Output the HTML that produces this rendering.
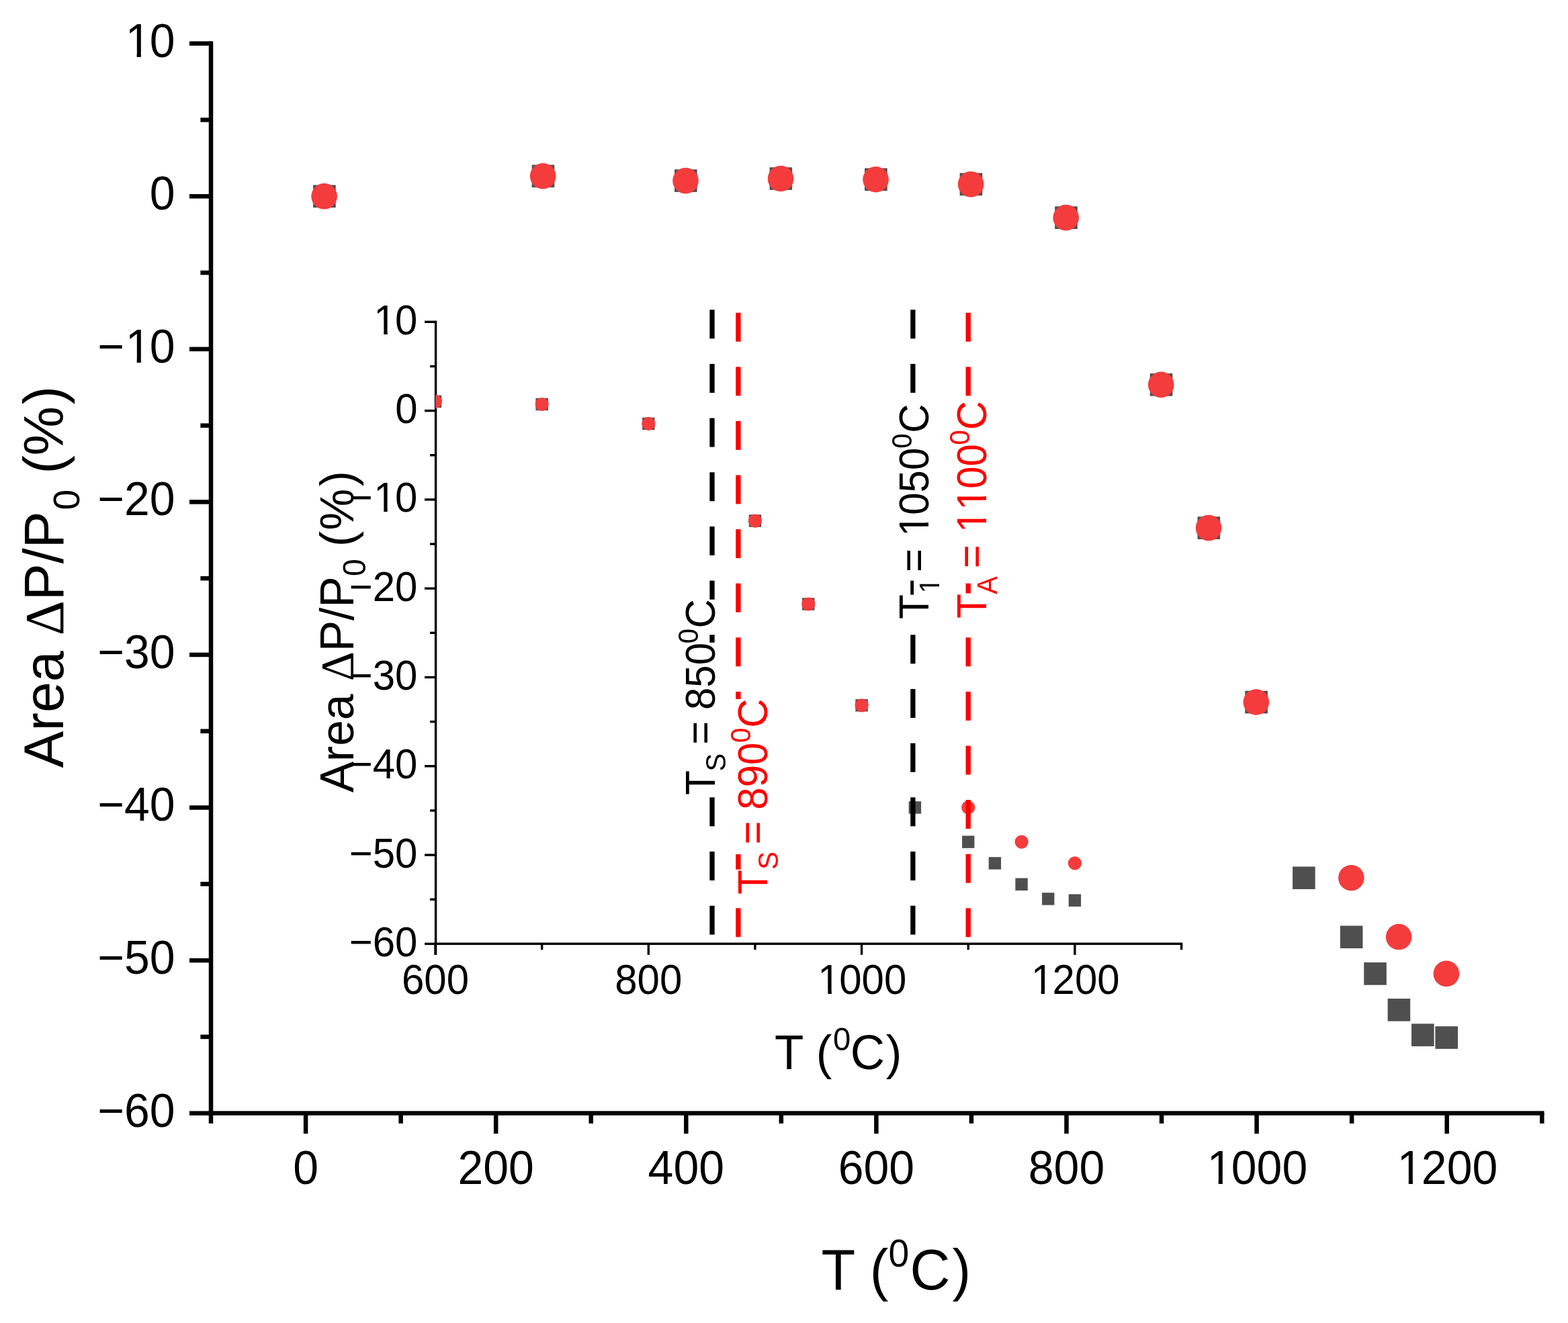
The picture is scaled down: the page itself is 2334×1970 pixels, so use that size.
<!DOCTYPE html>
<html lang="en">
<head>
<meta charset="utf-8">
<title>Area ΔP/P0 (%) vs T (0C)</title>
<style>
html,body{margin:0;padding:0;background:#fff;}
body{width:2334px;height:1970px;overflow:hidden;}
svg{display:block;}
text{font-family:"Liberation Sans", Arial, Helvetica, sans-serif;white-space:pre;}
</style>
</head>
<body>
<svg width="2334" height="1970" viewBox="0 0 2334 1970">
<rect x="0" y="0" width="2334" height="1970" fill="#fff"/>
<g id="figure">

<g id="main-axes">
<rect x="310.75" y="61.49" width="6.50" height="1611.41" fill="#000"/>
<rect x="310.75" y="1654.35" width="1987.75" height="6.50" fill="#000"/>
<rect x="282.00" y="61.49" width="32.00" height="6.50" fill="#000"/>
<rect x="282.00" y="289.05" width="32.00" height="6.50" fill="#000"/>
<rect x="282.00" y="516.61" width="32.00" height="6.50" fill="#000"/>
<rect x="282.00" y="744.17" width="32.00" height="6.50" fill="#000"/>
<rect x="282.00" y="971.73" width="32.00" height="6.50" fill="#000"/>
<rect x="282.00" y="1199.29" width="32.00" height="6.50" fill="#000"/>
<rect x="282.00" y="1426.85" width="32.00" height="6.50" fill="#000"/>
<rect x="282.00" y="1654.41" width="32.00" height="6.50" fill="#000"/>
<rect x="298.40" y="175.27" width="15.60" height="6.50" fill="#000"/>
<rect x="298.40" y="402.83" width="15.60" height="6.50" fill="#000"/>
<rect x="298.40" y="630.39" width="15.60" height="6.50" fill="#000"/>
<rect x="298.40" y="857.95" width="15.60" height="6.50" fill="#000"/>
<rect x="298.40" y="1085.51" width="15.60" height="6.50" fill="#000"/>
<rect x="298.40" y="1313.07" width="15.60" height="6.50" fill="#000"/>
<rect x="298.40" y="1540.63" width="15.60" height="6.50" fill="#000"/>
<rect x="451.85" y="1657.60" width="6.50" height="30.50" fill="#000"/>
<rect x="734.95" y="1657.60" width="6.50" height="30.50" fill="#000"/>
<rect x="1018.05" y="1657.60" width="6.50" height="30.50" fill="#000"/>
<rect x="1301.15" y="1657.60" width="6.50" height="30.50" fill="#000"/>
<rect x="1584.25" y="1657.60" width="6.50" height="30.50" fill="#000"/>
<rect x="1867.35" y="1657.60" width="6.50" height="30.50" fill="#000"/>
<rect x="2150.45" y="1657.60" width="6.50" height="30.50" fill="#000"/>
<rect x="593.40" y="1657.60" width="6.50" height="15.30" fill="#000"/>
<rect x="876.50" y="1657.60" width="6.50" height="15.30" fill="#000"/>
<rect x="1159.60" y="1657.60" width="6.50" height="15.30" fill="#000"/>
<rect x="1442.70" y="1657.60" width="6.50" height="15.30" fill="#000"/>
<rect x="1725.80" y="1657.60" width="6.50" height="15.30" fill="#000"/>
<rect x="2008.90" y="1657.60" width="6.50" height="15.30" fill="#000"/>
<rect x="2292.00" y="1657.60" width="6.50" height="15.30" fill="#000"/>
</g>
<g id="main-ticklabels">
<g transform="translate(184.96 84.64)">
<text transform="scale(1 1.0405)" font-size="68" fill="#000"><tspan x="1.70" y="0.00">1</tspan><tspan x="37.82" y="0.00">0</tspan></text>
<rect x="5.58" y="-6.29" width="13.12" height="7.59" fill="#fff"/>
<rect x="24.91" y="-6.29" width="12.59" height="7.59" fill="#fff"/>
</g>
<g transform="translate(222.78 312.20)">
<text transform="scale(1 1.0405)" font-size="68" fill="#000"><tspan x="0.00" y="0.00">0</tspan></text>
</g>
<g transform="translate(145.25 539.76)">
<text transform="scale(1 1.0405)" font-size="68" fill="#000"><tspan x="0.00" y="0.00">−</tspan><tspan x="41.41" y="0.00">1</tspan><tspan x="77.53" y="0.00">0</tspan></text>
<rect x="45.29" y="-6.29" width="13.12" height="7.59" fill="#fff"/>
<rect x="64.62" y="-6.29" width="12.59" height="7.59" fill="#fff"/>
</g>
<g transform="translate(145.25 767.32)">
<text transform="scale(1 1.0405)" font-size="68" fill="#000"><tspan x="0.00" y="0.00">−20</tspan></text>
</g>
<g transform="translate(145.25 994.88)">
<text transform="scale(1 1.0405)" font-size="68" fill="#000"><tspan x="0.00" y="0.00">−30</tspan></text>
</g>
<g transform="translate(145.25 1222.44)">
<text transform="scale(1 1.0405)" font-size="68" fill="#000"><tspan x="0.00" y="0.00">−40</tspan></text>
</g>
<g transform="translate(145.25 1450.00)">
<text transform="scale(1 1.0405)" font-size="68" fill="#000"><tspan x="0.00" y="0.00">−50</tspan></text>
</g>
<g transform="translate(145.25 1677.56)">
<text transform="scale(1 1.0405)" font-size="68" fill="#000"><tspan x="0.00" y="0.00">−60</tspan></text>
</g>
<g transform="translate(436.19 1762.80)">
<text transform="scale(1 1.0405)" font-size="68" fill="#000"><tspan x="0.00" y="0.00">0</tspan></text>
</g>
<g transform="translate(681.47 1762.80)">
<text transform="scale(1 1.0405)" font-size="68" fill="#000"><tspan x="0.00" y="0.00">200</tspan></text>
</g>
<g transform="translate(964.57 1762.80)">
<text transform="scale(1 1.0405)" font-size="68" fill="#000"><tspan x="0.00" y="0.00">400</tspan></text>
</g>
<g transform="translate(1247.67 1762.80)">
<text transform="scale(1 1.0405)" font-size="68" fill="#000"><tspan x="0.00" y="0.00">600</tspan></text>
</g>
<g transform="translate(1530.77 1762.80)">
<text transform="scale(1 1.0405)" font-size="68" fill="#000"><tspan x="0.00" y="0.00">800</tspan></text>
</g>
<g transform="translate(1794.96 1762.80)">
<text transform="scale(1 1.0405)" font-size="68" fill="#000"><tspan x="1.70" y="0.00">1</tspan><tspan x="37.82" y="0.00">000</tspan></text>
<rect x="5.58" y="-6.29" width="13.12" height="7.59" fill="#fff"/>
<rect x="24.91" y="-6.29" width="12.59" height="7.59" fill="#fff"/>
</g>
<g transform="translate(2078.06 1762.80)">
<text transform="scale(1 1.0405)" font-size="68" fill="#000"><tspan x="1.70" y="0.00">1</tspan><tspan x="37.82" y="0.00">200</tspan></text>
<rect x="5.58" y="-6.29" width="13.12" height="7.59" fill="#fff"/>
<rect x="24.91" y="-6.29" width="12.59" height="7.59" fill="#fff"/>
</g>
</g>
<g id="main-xtitle">
<g transform="translate(1222.40 1920.10)">
<text transform="scale(1 1.03)" font-size="83" fill="#000"><tspan x="0.00" y="0.00">T (</tspan><tspan x="100.20" y="-33.20" font-size="55.3">0</tspan><tspan x="132.10" y="0.00">C</tspan><tspan x="195.04" y="0.00">)</tspan></text>
</g>
</g>
<g id="main-ytitle">
<g transform="translate(94.30 1143.60) rotate(-90)">
<text transform="scale(1 1.02)" font-size="82.5" fill="#000"><tspan x="0.00" y="0.00">Area </tspan><tspan x="197.39" y="0.00" font-size="80.85" font-family="'Liberation Serif', serif">Δ</tspan><tspan x="249.29" y="0.00">P/P</tspan><tspan x="384.10" y="22.94" font-size="55">0</tspan><tspan x="414.69" y="0.00"> </tspan><tspan x="438.05" y="0.00">(</tspan><tspan x="465.17" y="0.00">%</tspan><tspan x="541.43" y="0.00">)</tspan></text>
</g>
</g>
<g id="main-data">
<rect x="466.11" y="275.50" width="33.60" height="33.60" fill="#4f4f4f"/>
<rect x="791.68" y="245.46" width="33.60" height="33.60" fill="#4f4f4f"/>
<rect x="1004.00" y="252.29" width="33.60" height="33.60" fill="#4f4f4f"/>
<rect x="1145.55" y="249.22" width="33.60" height="33.60" fill="#4f4f4f"/>
<rect x="1287.10" y="250.47" width="33.60" height="33.60" fill="#4f4f4f"/>
<rect x="1428.65" y="257.64" width="33.60" height="33.60" fill="#4f4f4f"/>
<rect x="1570.20" y="307.36" width="33.60" height="33.60" fill="#4f4f4f"/>
<rect x="1711.75" y="556.08" width="33.60" height="33.60" fill="#4f4f4f"/>
<rect x="1782.52" y="769.31" width="33.60" height="33.60" fill="#4f4f4f"/>
<rect x="1853.30" y="1028.72" width="33.60" height="33.60" fill="#4f4f4f"/>
<rect x="1924.08" y="1290.42" width="33.60" height="33.60" fill="#4f4f4f"/>
<rect x="1994.85" y="1378.48" width="33.60" height="33.60" fill="#4f4f4f"/>
<rect x="2030.24" y="1433.10" width="33.60" height="33.60" fill="#4f4f4f"/>
<rect x="2065.62" y="1487.03" width="33.60" height="33.60" fill="#4f4f4f"/>
<rect x="2101.01" y="1524.35" width="33.60" height="33.60" fill="#4f4f4f"/>
<rect x="2136.40" y="1528.22" width="33.60" height="33.60" fill="#4f4f4f"/>
<circle cx="482.61" cy="292.30" r="19.3" fill="#f43c3d"/>
<circle cx="808.18" cy="262.26" r="19.3" fill="#f43c3d"/>
<circle cx="1020.50" cy="269.09" r="19.3" fill="#f43c3d"/>
<circle cx="1162.05" cy="266.02" r="19.3" fill="#f43c3d"/>
<circle cx="1303.60" cy="267.27" r="19.3" fill="#f43c3d"/>
<circle cx="1445.15" cy="274.44" r="19.3" fill="#f43c3d"/>
<circle cx="1586.70" cy="324.16" r="19.3" fill="#f43c3d"/>
<circle cx="1728.25" cy="572.88" r="19.3" fill="#f43c3d"/>
<circle cx="1799.02" cy="786.11" r="19.3" fill="#f43c3d"/>
<circle cx="1869.80" cy="1045.52" r="19.3" fill="#f43c3d"/>
<circle cx="2011.35" cy="1307.22" r="19.3" fill="#f43c3d"/>
<circle cx="2082.12" cy="1395.06" r="19.3" fill="#f43c3d"/>
<circle cx="2152.90" cy="1449.90" r="19.3" fill="#f43c3d"/>
</g>
<g id="inset-axes">
<rect x="646.90" y="477.60" width="3.40" height="944.20" fill="#000"/>
<rect x="646.90" y="1403.60" width="1113.35" height="3.40" fill="#000"/>
<rect x="632.10" y="477.60" width="16.50" height="3.40" fill="#000"/>
<rect x="632.10" y="609.90" width="16.50" height="3.40" fill="#000"/>
<rect x="632.10" y="742.20" width="16.50" height="3.40" fill="#000"/>
<rect x="632.10" y="874.50" width="16.50" height="3.40" fill="#000"/>
<rect x="632.10" y="1006.80" width="16.50" height="3.40" fill="#000"/>
<rect x="632.10" y="1139.10" width="16.50" height="3.40" fill="#000"/>
<rect x="632.10" y="1271.40" width="16.50" height="3.40" fill="#000"/>
<rect x="632.10" y="1403.70" width="16.50" height="3.40" fill="#000"/>
<rect x="640.10" y="543.75" width="8.50" height="3.40" fill="#000"/>
<rect x="640.10" y="676.05" width="8.50" height="3.40" fill="#000"/>
<rect x="640.10" y="808.35" width="8.50" height="3.40" fill="#000"/>
<rect x="640.10" y="940.65" width="8.50" height="3.40" fill="#000"/>
<rect x="640.10" y="1072.95" width="8.50" height="3.40" fill="#000"/>
<rect x="640.10" y="1205.25" width="8.50" height="3.40" fill="#000"/>
<rect x="640.10" y="1337.55" width="8.50" height="3.40" fill="#000"/>
<rect x="646.30" y="1405.30" width="3.40" height="16.50" fill="#000"/>
<rect x="963.60" y="1405.30" width="3.40" height="16.50" fill="#000"/>
<rect x="1280.90" y="1405.30" width="3.40" height="16.50" fill="#000"/>
<rect x="1598.20" y="1405.30" width="3.40" height="16.50" fill="#000"/>
<rect x="804.95" y="1405.30" width="3.40" height="9.00" fill="#000"/>
<rect x="1122.25" y="1405.30" width="3.40" height="9.00" fill="#000"/>
<rect x="1439.55" y="1405.30" width="3.40" height="9.00" fill="#000"/>
<rect x="1756.85" y="1405.30" width="3.40" height="9.00" fill="#000"/>
</g>
<defs><clipPath id="insetclip"><rect x="648" y="400" width="1200" height="1100"/></clipPath></defs>
<g id="inset-data" clip-path="url(#insetclip)">
<rect x="638.80" y="588.65" width="18.40" height="18.40" fill="#4f4f4f"/>
<rect x="797.45" y="592.81" width="18.40" height="18.40" fill="#4f4f4f"/>
<rect x="956.10" y="621.72" width="18.40" height="18.40" fill="#4f4f4f"/>
<rect x="1114.75" y="766.33" width="18.40" height="18.40" fill="#4f4f4f"/>
<rect x="1194.08" y="890.29" width="18.40" height="18.40" fill="#4f4f4f"/>
<rect x="1273.40" y="1041.11" width="18.40" height="18.40" fill="#4f4f4f"/>
<rect x="1352.72" y="1193.26" width="18.40" height="18.40" fill="#4f4f4f"/>
<rect x="1432.05" y="1244.46" width="18.40" height="18.40" fill="#4f4f4f"/>
<rect x="1471.71" y="1276.21" width="18.40" height="18.40" fill="#4f4f4f"/>
<rect x="1511.38" y="1307.57" width="18.40" height="18.40" fill="#4f4f4f"/>
<rect x="1551.04" y="1329.26" width="18.40" height="18.40" fill="#4f4f4f"/>
<rect x="1590.70" y="1331.51" width="18.40" height="18.40" fill="#4f4f4f"/>
<circle cx="648.00" cy="597.85" r="10.1" fill="#f43c3d"/>
<circle cx="806.65" cy="602.01" r="10.1" fill="#f43c3d"/>
<circle cx="965.30" cy="630.92" r="10.1" fill="#f43c3d"/>
<circle cx="1123.95" cy="775.53" r="10.1" fill="#f43c3d"/>
<circle cx="1203.28" cy="899.49" r="10.1" fill="#f43c3d"/>
<circle cx="1282.60" cy="1050.31" r="10.1" fill="#f43c3d"/>
<circle cx="1441.25" cy="1202.46" r="10.1" fill="#f43c3d"/>
<circle cx="1520.58" cy="1253.53" r="10.1" fill="#f43c3d"/>
<circle cx="1599.90" cy="1285.41" r="10.1" fill="#f43c3d"/>
</g>
<g id="inset-dashes">
<rect x="1056.35" y="461.20" width="7.30" height="43.00" fill="#000"/>
<rect x="1056.35" y="541.88" width="7.30" height="43.00" fill="#000"/>
<rect x="1056.35" y="622.56" width="7.30" height="43.00" fill="#000"/>
<rect x="1056.35" y="703.24" width="7.30" height="43.00" fill="#000"/>
<rect x="1056.35" y="783.92" width="7.30" height="43.00" fill="#000"/>
<rect x="1056.35" y="864.60" width="7.30" height="28.10" fill="#000"/>
<rect x="1056.35" y="945.28" width="7.30" height="11.52" fill="#000"/>
<rect x="1056.35" y="1187.32" width="7.30" height="43.00" fill="#000"/>
<rect x="1056.35" y="1268.00" width="7.30" height="43.00" fill="#000"/>
<rect x="1056.35" y="1348.68" width="7.30" height="43.00" fill="#000"/>
<rect x="1095.25" y="465.70" width="7.30" height="43.00" fill="#ff0000"/>
<rect x="1095.25" y="546.30" width="7.30" height="43.00" fill="#ff0000"/>
<rect x="1095.25" y="626.90" width="7.30" height="43.00" fill="#ff0000"/>
<rect x="1095.25" y="707.50" width="7.30" height="43.00" fill="#ff0000"/>
<rect x="1095.25" y="788.10" width="7.30" height="43.00" fill="#ff0000"/>
<rect x="1095.25" y="868.70" width="7.30" height="43.00" fill="#ff0000"/>
<rect x="1095.25" y="949.30" width="7.30" height="43.00" fill="#ff0000"/>
<rect x="1095.25" y="1029.90" width="7.30" height="11.10" fill="#ff0000"/>
<rect x="1095.25" y="1272.00" width="7.30" height="22.70" fill="#ff0000"/>
<rect x="1095.25" y="1352.30" width="7.30" height="43.00" fill="#ff0000"/>
<rect x="1355.25" y="461.20" width="7.30" height="43.00" fill="#000"/>
<rect x="1355.25" y="541.88" width="7.30" height="43.00" fill="#000"/>
<rect x="1355.25" y="864.60" width="4.85" height="21.00" fill="#000"/>
<rect x="1355.25" y="945.28" width="7.30" height="43.00" fill="#000"/>
<rect x="1355.25" y="1025.96" width="7.30" height="43.00" fill="#000"/>
<rect x="1355.25" y="1106.64" width="7.30" height="43.00" fill="#000"/>
<rect x="1355.25" y="1187.32" width="7.30" height="43.00" fill="#000"/>
<rect x="1355.25" y="1268.00" width="7.30" height="43.00" fill="#000"/>
<rect x="1355.25" y="1348.68" width="7.30" height="43.00" fill="#000"/>
<rect x="1437.55" y="465.70" width="7.30" height="43.00" fill="#ff0000"/>
<rect x="1437.55" y="546.30" width="7.30" height="43.00" fill="#ff0000"/>
<rect x="1437.55" y="868.70" width="7.30" height="14.80" fill="#ff0000"/>
<rect x="1437.55" y="949.30" width="7.30" height="43.00" fill="#ff0000"/>
<rect x="1437.55" y="1029.90" width="7.30" height="43.00" fill="#ff0000"/>
<rect x="1437.55" y="1110.50" width="7.30" height="43.00" fill="#ff0000"/>
<rect x="1437.55" y="1191.10" width="7.30" height="43.00" fill="#ff0000"/>
<rect x="1437.55" y="1271.70" width="7.30" height="43.00" fill="#ff0000"/>
<rect x="1437.55" y="1352.30" width="7.30" height="43.00" fill="#ff0000"/>
</g>
<g id="inset-ticklabels">
<g transform="translate(554.76 497.70)">
<text transform="scale(1 1.0405)" font-size="60" fill="#000"><tspan x="1.50" y="0.00">1</tspan><tspan x="33.37" y="0.00">0</tspan></text>
<rect x="4.77" y="-5.66" width="11.72" height="6.96" fill="#fff"/>
<rect x="21.99" y="-5.66" width="11.25" height="6.96" fill="#fff"/>
</g>
<g transform="translate(588.13 630.00)">
<text transform="scale(1 1.0405)" font-size="60" fill="#000"><tspan x="0.00" y="0.00">0</tspan></text>
</g>
<g transform="translate(519.72 762.30)">
<text transform="scale(1 1.0405)" font-size="60" fill="#000"><tspan x="0.00" y="0.00">−</tspan><tspan x="36.54" y="0.00">1</tspan><tspan x="68.41" y="0.00">0</tspan></text>
<rect x="39.81" y="-5.66" width="11.72" height="6.96" fill="#fff"/>
<rect x="57.03" y="-5.66" width="11.25" height="6.96" fill="#fff"/>
</g>
<g transform="translate(519.72 894.60)">
<text transform="scale(1 1.0405)" font-size="60" fill="#000"><tspan x="0.00" y="0.00">−20</tspan></text>
</g>
<g transform="translate(519.72 1026.90)">
<text transform="scale(1 1.0405)" font-size="60" fill="#000"><tspan x="0.00" y="0.00">−30</tspan></text>
</g>
<g transform="translate(519.72 1159.20)">
<text transform="scale(1 1.0405)" font-size="60" fill="#000"><tspan x="0.00" y="0.00">−40</tspan></text>
</g>
<g transform="translate(519.72 1291.50)">
<text transform="scale(1 1.0405)" font-size="60" fill="#000"><tspan x="0.00" y="0.00">−50</tspan></text>
</g>
<g transform="translate(519.72 1423.80)">
<text transform="scale(1 1.0405)" font-size="60" fill="#000"><tspan x="0.00" y="0.00">−60</tspan></text>
</g>
<g transform="translate(597.95 1479.80)">
<text transform="scale(1 1.0405)" font-size="60" fill="#000"><tspan x="0.00" y="0.00">600</tspan></text>
</g>
<g transform="translate(915.25 1479.80)">
<text transform="scale(1 1.0405)" font-size="60" fill="#000"><tspan x="0.00" y="0.00">800</tspan></text>
</g>
<g transform="translate(1215.86 1479.80)">
<text transform="scale(1 1.0405)" font-size="60" fill="#000"><tspan x="1.50" y="0.00">1</tspan><tspan x="33.37" y="0.00">000</tspan></text>
<rect x="4.77" y="-5.66" width="11.72" height="6.96" fill="#fff"/>
<rect x="21.99" y="-5.66" width="11.25" height="6.96" fill="#fff"/>
</g>
<g transform="translate(1533.16 1479.80)">
<text transform="scale(1 1.0405)" font-size="60" fill="#000"><tspan x="1.50" y="0.00">1</tspan><tspan x="33.37" y="0.00">200</tspan></text>
<rect x="4.77" y="-5.66" width="11.72" height="6.96" fill="#fff"/>
<rect x="21.99" y="-5.66" width="11.25" height="6.96" fill="#fff"/>
</g>
</g>
<g id="inset-xtitle">
<g transform="translate(1152.90 1591.50)">
<text transform="scale(1 1.03)" font-size="71" fill="#000"><tspan x="0.00" y="0.00">T (</tspan><tspan x="87.10" y="-27.18" font-size="47.3">0</tspan><tspan x="112.90" y="0.00">C</tspan><tspan x="165.87" y="0.00">)</tspan></text>
</g>
</g>
<g id="inset-ytitle">
<g transform="translate(525.50 1180.30) rotate(-90)">
<text transform="scale(1 1.02)" font-size="69.5" fill="#000"><tspan x="0.00" y="0.00">Area </tspan><tspan x="166.31" y="0.00" font-size="68.11" font-family="'Liberation Serif', serif">Δ</tspan><tspan x="209.94" y="0.00">P/P</tspan><tspan x="322.30" y="18.33" font-size="46.3">0</tspan><tspan x="348.05" y="0.00"> </tspan><tspan x="366.30" y="0.00">(</tspan><tspan x="390.84" y="0.00">%</tspan><tspan x="455.94" y="0.00">)</tspan></text>
</g>
</g>
<g id="inset-labels">
<g transform="translate(1063.90 1183.65) rotate(-90)">
<text transform="scale(1 1.0405)" font-size="60" fill="#000"><tspan x="0.00" y="0.00">T</tspan><tspan x="35.25" y="15.57" font-size="40">S</tspan><tspan x="61.93" y="0.00"> </tspan><tspan x="74.85" y="0.00">= 850</tspan><tspan x="225.35" y="-23.74" font-size="40">0</tspan><tspan x="248.20" y="0.00">C</tspan></text>
</g>
<g transform="translate(1142.00 1331.75) rotate(-90)">
<text transform="scale(1 1.0405)" font-size="60" fill="#ff0000"><tspan x="0.00" y="0.00">T</tspan><tspan x="36.95" y="15.57" font-size="40">S</tspan><tspan x="63.63" y="0.00"> </tspan><tspan x="74.35" y="0.00">= 890</tspan><tspan x="225.75" y="-23.74" font-size="40">0</tspan><tspan x="248.00" y="0.00">C</tspan></text>
</g>
<g transform="translate(1381.90 921.75) rotate(-90)">
<text transform="scale(1 1.0405)" font-size="60" fill="#000"><tspan x="0.00" y="0.00">T</tspan><tspan x="38.45" y="15.57" font-size="40">1</tspan><tspan x="59.70" y="0.00"> </tspan><tspan x="69.85" y="0.00">= </tspan><tspan x="123.06" y="0.00">1</tspan><tspan x="154.93" y="0.00">050</tspan><tspan x="254.05" y="-23.74" font-size="40">0</tspan><tspan x="276.90" y="0.00">C</tspan></text>
<rect x="40.20" y="12.09" width="8.21" height="5.41" fill="#fff"/>
<rect x="52.14" y="12.09" width="7.90" height="5.41" fill="#fff"/>
<rect x="126.33" y="-5.66" width="11.72" height="6.96" fill="#fff"/>
<rect x="143.55" y="-5.66" width="11.25" height="6.96" fill="#fff"/>
</g>
<g transform="translate(1467.80 920.65) rotate(-90)">
<text transform="scale(1 1.0405)" font-size="60" fill="#ff0000"><tspan x="0.00" y="0.00">T</tspan><tspan x="35.85" y="15.57" font-size="40">A</tspan><tspan x="62.53" y="0.00"> </tspan><tspan x="74.45" y="0.00">= </tspan><tspan x="127.66" y="0.00">1</tspan><tspan x="161.03" y="0.00">1</tspan><tspan x="192.90" y="0.00">00</tspan><tspan x="258.15" y="-23.74" font-size="40">0</tspan><tspan x="280.30" y="0.00">C</tspan></text>
<rect x="130.93" y="-5.66" width="11.72" height="6.96" fill="#fff"/>
<rect x="148.15" y="-5.66" width="11.25" height="6.96" fill="#fff"/>
<rect x="164.30" y="-5.66" width="11.72" height="6.96" fill="#fff"/>
<rect x="181.52" y="-5.66" width="11.25" height="6.96" fill="#fff"/>
</g>
</g>
</g>
</svg>
</body>
</html>
